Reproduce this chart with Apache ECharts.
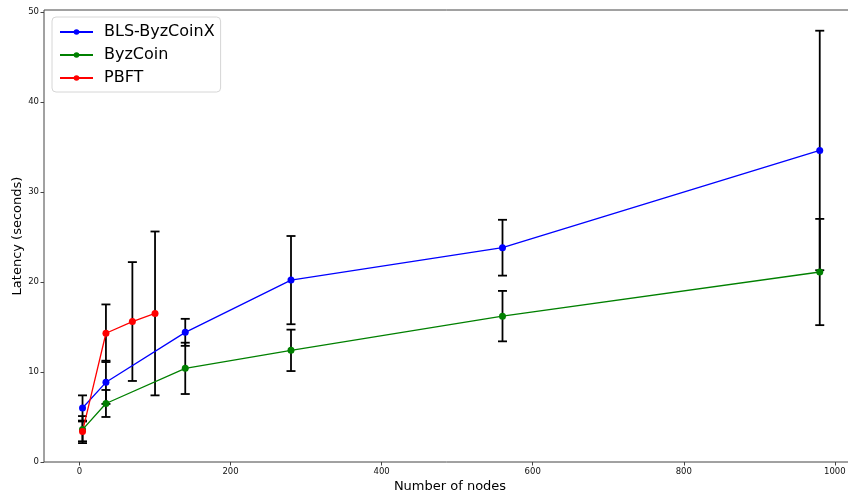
<!DOCTYPE html>
<html>
<head>
<meta charset="utf-8">
<script src="https://cdn.jsdelivr.net/npm/echarts@6/dist/echarts.min.js"></script>
<style>html,body{margin:0;padding:0;background:#fff;}#c{width:848px;height:494px;}</style>
</head>
<body>
<div id="c"></div>
<script>
// ---- data ----
const nodesBLS = [4, 35, 140, 280, 560, 980];
const latBLS   = [6.0, 8.85, 14.4, 20.2, 23.8, 34.6];
const errBLS   = [1.4, 2.4, 1.5, 4.9, 3.1, 13.3];

const nodesByz = [4, 35, 140, 280, 560, 980];
const latByz   = [3.6, 6.5, 10.4, 12.4, 16.2, 21.1];
const errByz   = [1.5, 1.5, 2.85, 2.3, 2.8, 5.9];

const nodesPBFT = [4, 35, 70, 100];
const latPBFT   = [3.4, 14.3, 15.6, 16.5];
const errPBFT   = [1.1, 3.2, 6.6, 9.1];

const xTicks = [0, 200, 400, 600, 800, 1000];
const yTicks = [0, 10, 20, 30, 40, 50];

const seriesDefs = [
  {name: 'BLS-ByzCoinX', color: '#0000ff', xs: nodesBLS, ys: latBLS, es: errBLS},
  {name: 'ByzCoin', color: '#008000', xs: nodesByz, ys: latByz, es: errByz},
  {name: 'PBFT', color: '#ff0000', xs: nodesPBFT, ys: latPBFT, es: errPBFT}
];

const FONT = 'DejaVu Sans';
const chart = echarts.init(document.getElementById('c'), null, {renderer: 'canvas'});

function errRender(params, api) {
  const x = api.value(0), lo = api.value(1), hi = api.value(2);
  const a = api.coord([x, lo]);
  const b = api.coord([x, hi]);
  const w = 4.5;
  const st = {stroke: '#000', lineWidth: 1.8};
  return {
    type: 'group',
    children: [
      {type: 'line', shape: {x1: a[0], y1: a[1], x2: b[0], y2: b[1]}, style: st},
      {type: 'line', shape: {x1: a[0] - w, y1: a[1], x2: a[0] + w, y2: a[1]}, style: st},
      {type: 'line', shape: {x1: b[0] - w, y1: b[1], x2: b[0] + w, y2: b[1]}, style: st}
    ]
  };
}

const series = [];
seriesDefs.forEach(d => {
  series.push({
    type: 'custom',
    name: d.name + ' err',
    renderItem: errRender,
    encode: {x: 0, y: [1, 2]},
    data: d.xs.map((x, i) => [x, d.ys[i] - d.es[i], d.ys[i] + d.es[i]]),
    z: 1,
    silent: true
  });
});
seriesDefs.forEach(d => {
  series.push({
    type: 'line',
    name: d.name,
    data: d.xs.map((x, i) => [x, d.ys[i]]),
    symbol: 'circle',
    symbolSize: 7,
    showSymbol: true,
    color: d.color,
    itemStyle: {color: d.color},
    lineStyle: {color: d.color, width: 1.3},
    z: 3
  });
});

chart.setOption({
  animation: false,
  backgroundColor: '#fff',
  textStyle: {fontFamily: FONT},
  grid: {
    left: 44, right: -8, top: 10, bottom: 32,
    containLabel: false,
    outerBoundsMode: 'none',
    show: true, borderColor: '#444', borderWidth: 1, backgroundColor: 'transparent'
  },
  legend: {
    data: seriesDefs.map(d => d.name),
    orient: 'vertical',
    left: 52, top: 17,
    padding: [7, 6, 6, 7],
    itemGap: 7,
    itemWidth: 33,
    itemHeight: 7,
    backgroundColor: 'rgba(255,255,255,0.8)',
    borderColor: '#d6d6d6',
    borderWidth: 1,
    borderRadius: 4,
    textStyle: {fontFamily: FONT, fontSize: 16, color: '#000', padding: [0, 0, 0, 6]}
  },
  xAxis: {
    type: 'value',
    min: -47, max: 1028,
    name: 'Number of nodes',
    nameLocation: 'middle',
    nameGap: 18,
    nameMoveOverlap: false,
    nameTextStyle: {fontFamily: FONT, fontSize: 13, color: '#000'},
    axisLine: {show: false, onZero: false},
    axisTick: {show: true, length: 3.5, lineStyle: {color: '#444', width: 1}, customValues: xTicks},
    axisLabel: {fontFamily: FONT, fontSize: 8.5, color: '#111', margin: 5, customValues: xTicks,
                formatter: v => String(v)},
    splitLine: {show: false}
  },
  yAxis: {
    type: 'value',
    min: 0, max: 50.2,
    name: 'Latency (seconds)',
    nameLocation: 'middle',
    nameGap: 20,
    nameMoveOverlap: false,
    nameTextStyle: {fontFamily: FONT, fontSize: 13, color: '#000'},
    axisLine: {show: false, onZero: false},
    axisTick: {show: true, length: 3.5, lineStyle: {color: '#444', width: 1}, customValues: yTicks},
    axisLabel: {fontFamily: FONT, fontSize: 8.5, color: '#111', margin: 5, customValues: yTicks,
                formatter: v => String(v)},
    splitLine: {show: false}
  },
  series: series
});
</script>
</body>
</html>
